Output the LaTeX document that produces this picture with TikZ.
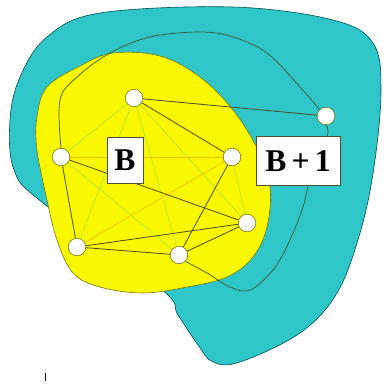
\documentclass[tikz,border=0pt]{standalone}
\usepackage{fontspec}
\setmainfont{Liberation Serif}
\usepackage{xcolor}
\usepackage{tikz}
\usetikzlibrary{positioning, calc}

\definecolor{setcyan}{RGB}{46,198,200}
\definecolor{setyellow}{RGB}{250,248,0}
\definecolor{edgedark}{RGB}{80,80,40}
\definecolor{edgegreen}{RGB}{180,230,60}
\definecolor{edgeorange}{RGB}{235,190,0}

\begin{document}
\begin{tikzpicture}[x=0.03cm, y=-0.03cm,
    vtx/.style={circle, draw=edgedark!70!yellow, fill=white, line width=0.6pt, inner sep=0pt, minimum size=15pt},
    setlabel/.style={draw=edgedark, fill=white, line width=0.5pt, inner sep=0pt, font=\fontsize{27}{29}\selectfont\bfseries},
    darkedge/.style={draw=edgedark, line width=0.7pt},
    lightedge/.style={line width=0.6pt},
    boundary/.style={draw=edgedark!80!teal, line width=0.6pt}]
        \useasboundingbox (0,0) rectangle (386,385);

        % Draw sets
        \filldraw[fill=setcyan, draw=teal!60!black, line width=0.5pt]
          plot[smooth cycle, tension=0.6] coordinates {(47,37) (100,13) (233,7) (333,20) (373,43) (381,90)
            (374,167) (360,233) (337,293) (300,333) (240,362) (213,362) (198,345) (178,315) (160,288)
            (43,203) (14,170) (10,120) (20,77)};
        \filldraw[fill=setyellow, draw=edgedark!80!yellow, line width=0.5pt]
          plot[smooth cycle, tension=0.6] coordinates {(113,53) (160,56) (200,77) (233,110) (258,150) (270,187)
            (267,227) (253,257) (227,277) (187,287) (143,293) (100,287) (73,273) (57,240) (47,200)
            (37,150) (37,117) (47,87) (80,66)};

        % Vertices
        \node[vtx] (n1) at (134,98) {};
        \node[vtx] (n2) at (326,116) {};
        \node[vtx] (n3) at (61,157) {};
        \node[vtx] (n4) at (232,157) {};
        \node[vtx] (n5) at (247,223) {};
        \node[vtx] (n6) at (77,247) {};
        \node[vtx] (n7) at (179,255) {};

        % Light edges
        \foreach \a/\b in {n1/n3, n1/n7, n1/n6, n3/n7, n4/n5, n1/n5}
          \draw[lightedge, edgegreen] (\a) -- (\b);
        \foreach \a/\b in {n3/n4, n6/n4}
          \draw[lightedge, edgeorange] (\a) -- (\b);

        % Boundary of B+1
        \draw[boundary] plot[smooth, tension=0.6] coordinates {(n3.north) (60,100) (77,77) (110,53) (150,37)
          (200,32) (233,37) (267,53) (300,87) (n2.north west)};
        \draw[boundary] plot[smooth, tension=0.6] coordinates {(n2.south) (327,137) (310,180) (303,207)
          (290,240) (273,270) (250,290) (230,287) (207,273) (n7.south east)};

        % Dark edges
        \foreach \a/\b in {n1/n2, n1/n4, n3/n6, n3/n5, n6/n5, n6/n7, n7/n5, n4/n7}
          \draw[darkedge] (\a) -- (\b);

        % Labels
        \node[setlabel, minimum width=31pt, minimum height=39pt] (lb) at (125,160) {B};
        \node[setlabel, minimum width=72pt, minimum height=42pt] (lb1) at (298,161) {B\,+\,1};

        \draw[line width=0.6pt] (45,373) -- (45,381);
      \end{tikzpicture}
\end{document}
